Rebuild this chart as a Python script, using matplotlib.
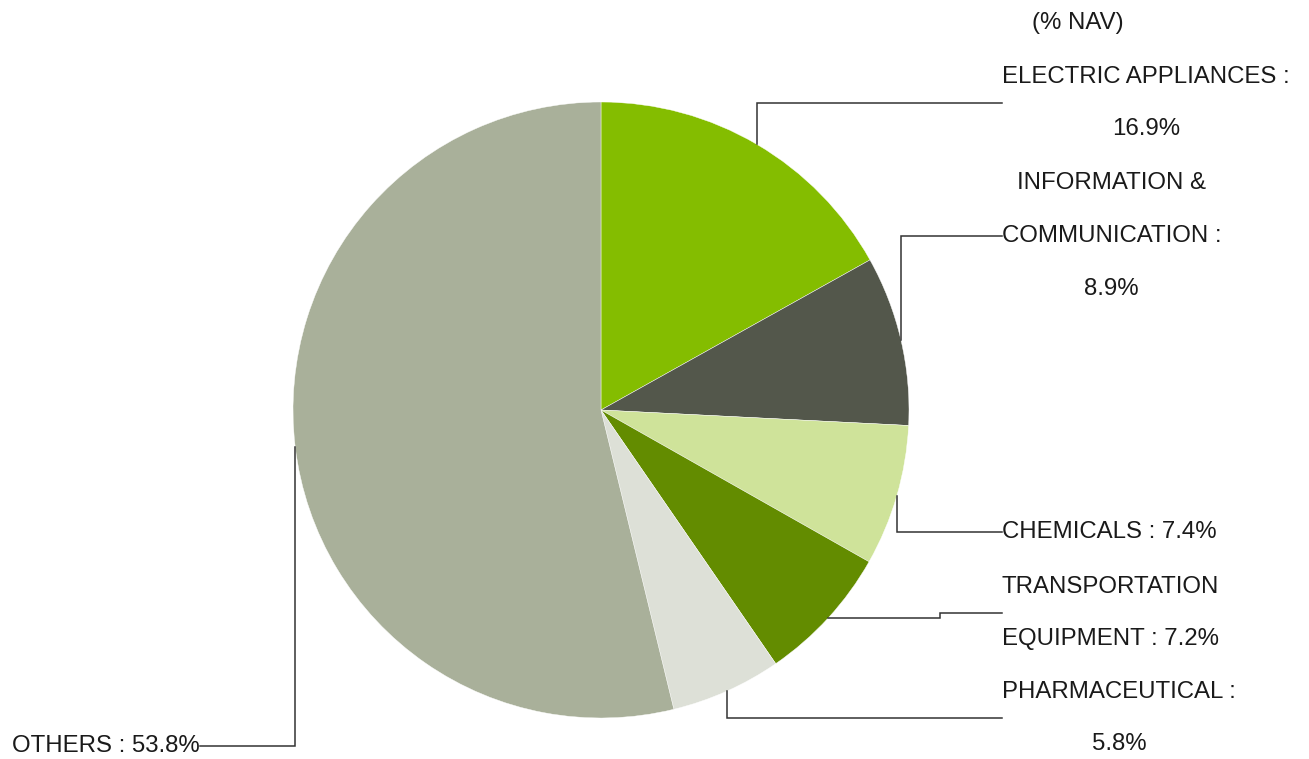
import numpy as np
import matplotlib.pyplot as plt

# sector weights (% NAV)
sectors = ['ELECTRIC APPLIANCES', 'INFORMATION &\nCOMMUNICATION', 'CHEMICALS',
           'TRANSPORTATION\nEQUIPMENT', 'PHARMACEUTICAL', 'OTHERS']
weights = [16.9, 8.9, 7.4, 7.2, 5.8, 53.8]
label_text = ['ELECTRIC APPLIANCES :\n16.9%',
              'INFORMATION &\nCOMMUNICATION :\n8.9%',
              'CHEMICALS : 7.4%',
              'TRANSPORTATION\nEQUIPMENT : 7.2%',
              'PHARMACEUTICAL :\n5.8%',
              'OTHERS : 53.8%']
colors = ['#84bd00', '#53574b', '#cfe39a', '#638c00', '#dde0d7', '#a9b09a']

W, H = 1309, 759
fig = plt.figure(figsize=(W / 100, H / 100), dpi=100)
ax = fig.add_axes([0, 0, 1, 1])

cx, cy, r = 601, H - 410, 308
wedges, _ = ax.pie(weights, colors=colors, startangle=90, counterclock=False,
                   center=(cx, cy), radius=r, frame=True,
                   wedgeprops=dict(edgecolor='white', linewidth=0.3))
ax.set_xlim(0, W)
ax.set_ylim(0, H)
ax.set_aspect('equal')
ax.axis('off')

font = dict(family='Liberation Sans', fontsize=17.3, color='#1a1a1a', linespacing=2.82)

# label anchor (y in image pixels) and side
label_y = [103, 236, 532, 613, 718, 746]
label_x = [1002, 1002, 1002, 1002, 1002, 200]

for w, txt, ly, lx in zip(wedges, label_text, label_y, label_x):
    mid = np.deg2rad((w.theta1 + w.theta2) / 2)
    px = cx + r * np.cos(mid)
    py = cy + r * np.sin(mid)
    Y = H - ly
    if lx < cx:
        xs, ys = [px, px, lx], [py, Y, Y]
        ax.text(lx, Y, txt, ha='right', va='center', multialignment='center', **font)
    elif abs(py - Y) < 10:
        xs, ys = [px, 940, 940, lx], [py, py, Y, Y]
        ax.text(lx, Y, txt, ha='left', va='center', multialignment='center', **font)
    else:
        xs, ys = [px, px, lx], [py, Y, Y]
        ax.text(lx, Y, txt, ha='left', va='center', multialignment='center', **font)
    ax.plot(xs, ys, color='#333333', lw=1.1, solid_joinstyle='miter')

ax.text(1078, H - 23, '(% NAV)', ha='center', va='center',
        **{k: v for k, v in font.items() if k != 'linespacing'})

fig.savefig('out.png', dpi=100)
